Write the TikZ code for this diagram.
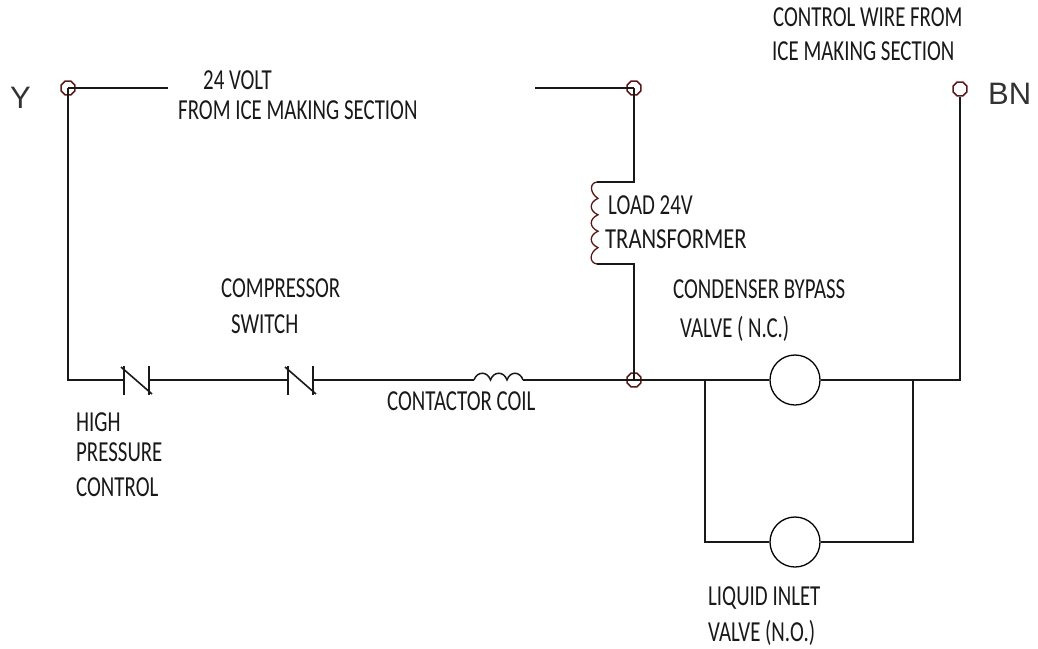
\documentclass[tikz,border=0pt]{standalone}
\usepackage{fontspec}
\setmainfont[FakeStretch=0.72]{Carlito}
\newfontfamily\widefont[FakeStretch=0.78]{Carlito}
\newfontfamily\labelfont{Liberation Sans}
\usetikzlibrary{shapes.geometric}
\definecolor{termred}{RGB}{90,25,25}
\tikzset{
  wire/.style={line width=1.6pt,black!90},
  termnode/.style={draw=termred,line width=1.6pt,regular polygon,regular polygon sides=8,minimum size=15pt,inner sep=0pt},
  valvenode/.style={draw,line width=1.3pt,circle,minimum size=50pt,inner sep=0pt},
  txt/.style={anchor=base west,inner sep=0pt,font=\fontsize{29}{29}\selectfont,text=black!90},
  widetxt/.style={txt,font=\widefont\fontsize{29}{29}\selectfont},
  bigtxt/.style={anchor=base west,inner sep=0pt,font=\labelfont\fontsize{31}{31}\selectfont,text=black!80}
}
\begin{document}
\begin{tikzpicture}[x=1pt,y=-1pt]
\useasboundingbox (0,0) rectangle (1038,648);
% terminals
\node[termnode] (termY) at (68,88) {};
\node[termnode] (termT) at (634,88) {};
\node[termnode] (termJ) at (634,380) {};
\node[termnode] (termB) at (960,89) {};
% valves
\node[valvenode] (valveB) at (795,380) {};
\node[valvenode] (valveL) at (795,542) {};
% corners and wire ends
\coordinate (breakL) at (168,88);
\coordinate (breakR) at (535,88);
\coordinate (cornerY) at (68,380);
\coordinate (coilTop) at (597,182);
\coordinate (coilBot) at (597,264);
\coordinate (coilTopR) at (634,182);
\coordinate (coilBotR) at (634,264);
\coordinate (hpL) at (124,380);
\coordinate (hpR) at (149,380);
\coordinate (csL) at (288,380);
\coordinate (csR) at (313,380);
\coordinate (ccL) at (474,380);
\coordinate (ccR) at (523,380);
\coordinate (cornerB) at (960,380);
\coordinate (tapL) at (705,380);
\coordinate (tapR) at (913,380);
\coordinate (tapLb) at (705,542);
\coordinate (tapRb) at (913,542);
% top wires
\draw[wire] (termY.center) -- (breakL);
\draw[wire] (breakR) -- (termT.center);
\draw[wire] (termY.center) -- (cornerY) -- (hpL);
\draw[wire] (termT.center) -- (coilTopR) -- (coilTop);
\draw[wire] (coilBot) -- (coilBotR) -- (termJ.center);
% bottom rung
\draw[wire] (hpR) -- (csL);
\draw[wire] (csR) -- (ccL);
\draw[wire] (ccR) -- (termJ.center);
\draw[wire] (termJ.center) -- (valveB);
\draw[wire] (valveB) -- (cornerB) -- (termB);
\draw[wire] (tapL) -- (tapLb) -- (valveL);
\draw[wire] (valveL) -- (tapRb) -- (tapR);
% switches
\foreach \sw in {hp,cs}{
  \draw[wire] (\sw L) ++(0,-14) -- ++(0,29);
  \draw[wire] (\sw R) ++(0,-14) -- ++(0,29);
  \draw[wire] (\sw L) ++(-3,-13) -- ++(31,27);
}
% transformer coil
\draw[termred,line width=1.3pt] (coilTop)
  .. controls +(-8,1) and +(-8,-5) .. ++(1,16.4)
  .. controls +(-9,4) and +(-9,-4) .. ++(0,16.4)
  .. controls +(-9,4) and +(-9,-4) .. ++(0,16.4)
  .. controls +(-9,4) and +(-9,-4) .. ++(0,16.4)
  .. controls +(-9,5) and +(-8,-1) .. (coilBot);
% contactor coil
\draw[wire,line width=1.5pt] (ccL) .. controls +(3,-9) and +(-3,-9) .. ++(16.5,0)
  .. controls +(3,-9) and +(-3,-9) .. ++(16.5,0)
  .. controls +(3,-9) and +(-3,-9) .. (ccR);
% texts
\node[txt] (lblCtlA) at (773,26) {CONTROL WIRE FROM};
\node[txt] (lblCtlB) at (772,60) {ICE MAKING SECTION};
\node[txt] (lblVoltA) at (203,89) {24 VOLT};
\node[txt] (lblVoltB) at (178,119) {FROM ICE MAKING SECTION};
\node[txt] (lblLoadA) at (608,214) {LOAD 24V};
\node[widetxt] (lblLoadB) at (605,248) {TRANSFORMER};
\node[txt] (lblCompA) at (221,297) {COMPRESSOR};
\node[txt] (lblCompB) at (231,333) {SWITCH};
\node[txt] (lblCondA) at (673,298) {CONDENSER BYPASS};
\node[txt] (lblCondB) at (680,337) {VALVE ( N.C.)};
\node[txt] (lblCoil) at (387,410) {CONTACTOR COIL};
\node[txt] (lblHighA) at (76,431) {HIGH};
\node[txt] (lblHighB) at (76,461) {PRESSURE};
\node[txt] (lblHighC) at (76,496) {CONTROL};
\node[txt] (lblLiqA) at (708,605) {LIQUID INLET};
\node[txt] (lblLiqB) at (708,641) {VALVE (N.O.)};
\node[bigtxt] (lblY) at (10,108) {Y};
\node[bigtxt] (lblBN) at (988,104) {BN};
\end{tikzpicture}
\end{document}
